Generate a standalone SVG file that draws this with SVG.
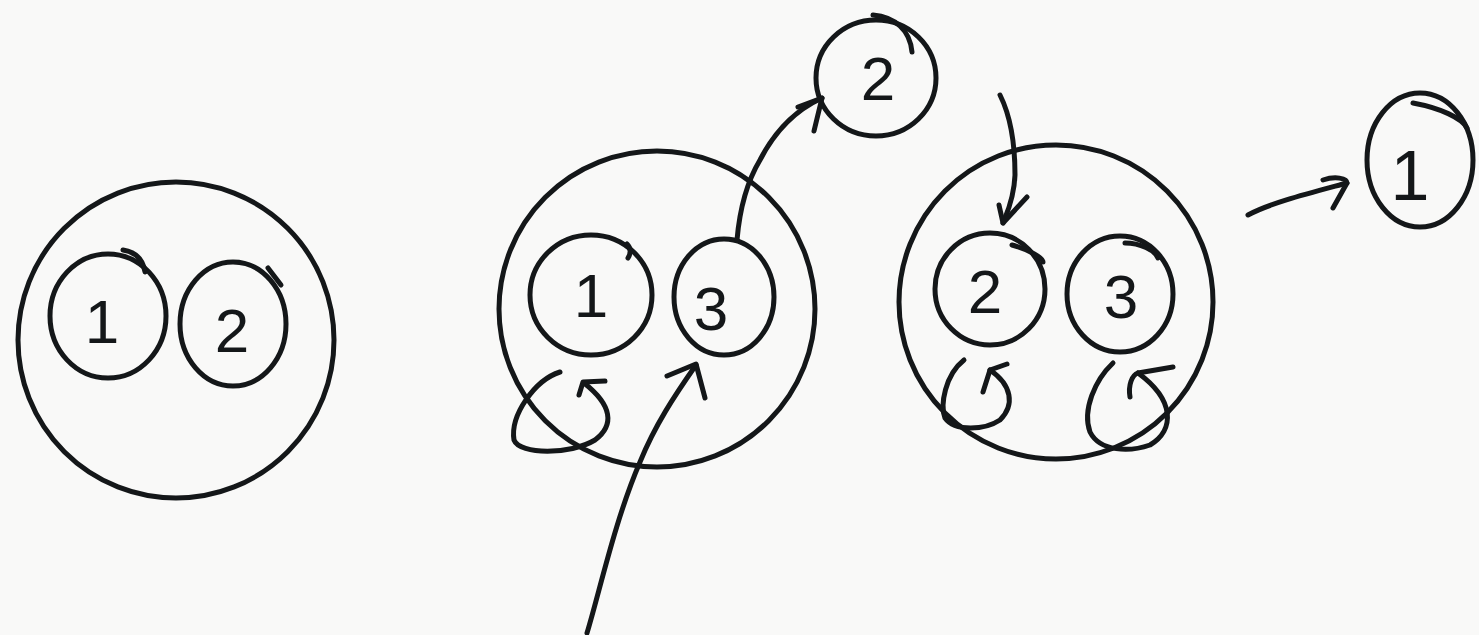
<svg xmlns="http://www.w3.org/2000/svg" width="1479" height="635" viewBox="0 0 1479 635">
<style>
.s{fill:none;stroke:#141719;stroke-width:5;stroke-linecap:round;stroke-linejoin:round}
.t{fill:#141719;font-family:"Liberation Sans",Arial,sans-serif;font-size:62px;text-anchor:middle}
</style>
<rect width="1479" height="635" fill="#f9f9f8"/>
<g id="group-1">
<circle class="s" cx="176" cy="340" r="158"/>
<g id="g1-node-1">
<ellipse class="s" cx="108" cy="316" rx="58" ry="62"/>
<path class="s" d="M123,250 C135,252 143,258 145,272"/>
<text class="t" x="102" y="343">1</text>
</g>
<g id="g1-node-2">
<ellipse class="s" cx="233" cy="324" rx="53" ry="62"/>
<path class="s" d="M268,268 L281,285"/>
<text class="t" x="232" y="352">2</text>
</g>
</g>
<g id="group-2">
<circle class="s" cx="657" cy="309" r="158"/>
<g id="g2-node-1">
<ellipse class="s" cx="591" cy="295" rx="61" ry="60"/>
<path class="s" d="M627,244 C631,248 631,253 628,258"/>
<text class="t" x="591" y="317">1</text>
</g>
<g id="g2-node-3">
<ellipse class="s" cx="724" cy="297" rx="50" ry="58"/>
<text class="t" x="711" y="330">3</text>
</g>
</g>
<g id="node-2-out">
<ellipse class="s" cx="876" cy="78" rx="60" ry="58"/>
<path class="s" d="M873,15 C895,17 910,30 912,52"/>
<text class="t" x="878" y="100">2</text>
</g>
<g id="group-3">
<circle class="s" cx="1056" cy="302" r="157"/>
<g id="g3-node-2">
<ellipse class="s" cx="990" cy="289" rx="55" ry="56"/>
<path class="s" d="M1012,245 C1030,250 1043,258 1043,262"/>
<text class="t" x="985" y="313">2</text>
</g>
<g id="g3-node-3">
<ellipse class="s" cx="1120" cy="294" rx="53" ry="58"/>
<path class="s" d="M1125,243 C1140,243 1155,250 1158,258"/>
<text class="t" x="1121" y="318">3</text>
</g>
</g>
<g id="node-1-out">
<ellipse class="s" cx="1420" cy="160" rx="53" ry="67"/>
<path class="s" d="M1413,103 C1440,108 1462,118 1467,128"/>
<text class="t" x="1410" y="200" style="font-size:70px">1</text>
</g>
<g id="connectors">
<path class="s" d="M587,633 C600,590 615,520 640,462 C655,425 675,395 696,365"/>
<path class="s" d="M667,376 L696,364 L705,398"/>
<path class="s" d="M737,240 C740,205 748,180 760,160 C778,125 800,108 822,98"/>
<path class="s" d="M798,107 L822,98 L814,131"/>
<path class="s" d="M560,372 C535,380 510,415 514,440 C520,455 570,455 595,440 C615,425 612,405 584,383"/>
<path class="s" d="M579,395 L583,382 L605,381"/>
<path class="s" d="M1000,95 C1010,115 1015,145 1015,175 C1014,200 1006,215 1003,223"/>
<path class="s" d="M999,205 L1003,223 L1027,197"/>
<path class="s" d="M964,360 C945,375 940,405 945,418 C955,432 985,430 1000,420 C1015,405 1012,385 990,370"/>
<path class="s" d="M983,392 L990,370 L1007,364"/>
<path class="s" d="M1113,363 C1095,380 1082,410 1090,432 C1100,452 1130,452 1150,445 C1175,430 1175,400 1138,373"/>
<path class="s" d="M1130,397 C1128,385 1132,375 1138,373 L1173,367"/>
<path class="s" d="M1248,215 C1270,203 1310,193 1347,183"/>
<path class="s" d="M1323,180 C1335,176 1347,178 1347,183 L1333,208"/>
</g>
</svg>
